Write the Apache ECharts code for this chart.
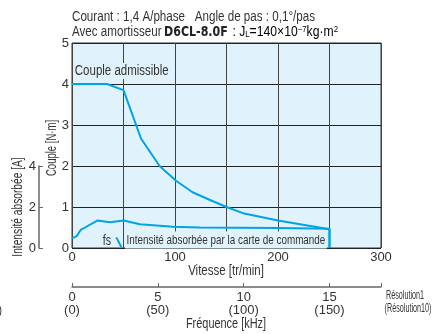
<!DOCTYPE html>
<html lang="fr">
<head>
    <meta charset="UTF-8">
    <title>Couple / vitesse</title>
    <script src="https://cdn.jsdelivr.net/npm/echarts@6/dist/echarts.min.js"></script>
    <style>
        html, body { margin: 0; padding: 0; background: #fff; }
        #chart { width: 433px; height: 334px; }
    </style>
</head>
<body>
<div id="chart"></div>
<script>
    // torque curve (N·m) vs speed (tr/min)
    const torqueSpeed = [0, 34, 50, 67, 85, 101, 117, 134, 150, 166, 200, 250, 250];
    const torqueValue = [4, 4, 3.85, 2.67, 2.0, 1.64, 1.36, 1.17, 1.0, 0.85, 0.67, 0.46, 0];

    // current drawn by the driver (A) vs speed
    const currentSpeed = [0, 4.5, 8.4, 12.6, 24.6, 37, 50, 66, 98, 124, 200, 250, 250];
    const currentValue = [0.47, 0.58, 0.88, 1.0, 1.34, 1.26, 1.34, 1.16, 1.04, 1.0, 0.98, 0.94, 0];

    // start frequency marker (fs)
    const fsSpeed = [43, 48];
    const fsValue = [0.26, 0.02];

    const speedTicks = [0, 100, 200, 300];
    const freqTicks = [0, 5, 10, 15];
    const currentTicks = [0, 2, 4];

    const FONT = '"Liberation Sans", Arial, sans-serif';
    const BLUE = '#00a3e6';
    const BG = '#e0f3fd';
    const INK = '#333';
    const SX = 0.82; // condensed look

    const zip = (xs, ys) => xs.map((x, i) => [x, ys[i]]);

    function label(text, x, y, opts) {
        opts = opts || {};
        return {
            type: 'text', x: x, y: y, z: 10, rotation: opts.rotation || 0,
            scaleX: opts.scaleX || SX,
            style: Object.assign({
                text: text, font: (opts.size || 14) + 'px ' + FONT, fill: INK,
                align: opts.align || 'left', verticalAlign: 'middle'
            }, opts.style || {})
        };
    }

    let chart = echarts.init(document.getElementById('chart'));

    let option = {
        animation: false,
        textStyle: { fontFamily: FONT },
        grid: [
            { left: 72, top: 43, width: 309, height: 205, show: true,
              backgroundColor: BG, borderColor: '#333', borderWidth: 1 },
            // current axis, left
            { left: 39, top: 166, width: 10, height: 82 },
            // frequency axis, bottom
            { left: 72, top: 267, width: 309, height: 20 }
        ],
        xAxis: [
            {
                gridIndex: 0, type: 'value', min: 0, max: 300, interval: 50,
                axisLine: { show: false }, axisTick: { show: false },
                axisLabel: {
                    fontSize: 13, color: INK, margin: 3, fontFamily: FONT,
                    formatter: v => speedTicks.includes(v) ? String(v) : ''
                },
                splitLine: { lineStyle: { color: '#444', width: 1 } }
            },
            { gridIndex: 1, type: 'value', show: false },
            {
                gridIndex: 2, type: 'value', min: 0, max: 18, interval: 5,
                position: 'bottom',
                axisLine: { lineStyle: { color: '#666', width: 1.5 } },
                axisTick: { inside: true, length: 4, lineStyle: { color: '#666' } },
                axisLabel: {
                    fontSize: 13, color: INK, margin: 4, lineHeight: 13, fontFamily: FONT,
                    formatter: v => freqTicks.includes(v) ? v + '\n(' + v * 10 + ')' : ''
                },
                splitLine: { show: false }
            }
        ],
        yAxis: [
            {
                gridIndex: 0, type: 'value', min: 0, max: 5, interval: 1,
                axisLine: { show: false }, axisTick: { show: false },
                axisLabel: { fontSize: 13, color: INK, margin: 3, fontFamily: FONT },
                splitLine: { lineStyle: { color: '#222', width: 1 } }
            },
            // hidden: current scaled so that 4 A matches 2 N·m
            { gridIndex: 0, type: 'value', min: 0, max: 10, show: false },
            {
                gridIndex: 1, type: 'value', min: 0, max: 4, interval: 2,
                position: 'left',
                axisLine: { show: true, lineStyle: { color: '#666', width: 1.5 } },
                axisTick: { show: true, inside: true, length: 4, lineStyle: { color: '#666' } },
                axisLabel: {
                    fontSize: 13, color: INK, margin: 3, fontFamily: FONT,
                    formatter: v => currentTicks.includes(v) ? String(v) : ''
                },
                splitLine: { show: false }
            },
            { gridIndex: 2, type: 'value', show: false }
        ],
        series: [
            {
                type: 'line', xAxisIndex: 0, yAxisIndex: 0, showSymbol: false,
                lineStyle: { color: BLUE, width: 2 }, data: zip(torqueSpeed, torqueValue), z: 3
            },
            {
                type: 'line', xAxisIndex: 0, yAxisIndex: 1, showSymbol: false,
                lineStyle: { color: BLUE, width: 2 }, data: zip(currentSpeed, currentValue), z: 3
            },
            {
                type: 'line', xAxisIndex: 0, yAxisIndex: 0, showSymbol: false,
                lineStyle: { color: BLUE, width: 2 }, data: zip(fsSpeed, fsValue), z: 3
            }
        ],
        graphic: [
            label('Courant : 1,4 A/phase   Angle de pas : 0,1°/pas', 72, 17, { scaleX: 0.83 }),
            label('Avec amortisseur', 72, 32, { scaleX: 0.83 }),
            {
                type: 'text', x: 164, y: 32, z: 10, scaleX: 0.79,
                style: { text: 'D6CL-8.0F', font: 'bold 14px "DejaVu Sans", sans-serif',
                         fill: '#222', verticalAlign: 'middle' }
            },
            {
                type: 'text', x: 229, y: 32, z: 10, scaleX: 0.87,
                style: {
                    text: '{n| : J}{s|L}{n|=140×10}{u|−7}{n|kg·m}{u|2}',
                    verticalAlign: 'middle',
                    rich: {
                        n: { fontSize: 14, fontFamily: FONT, color: INK },
                        s: { fontSize: 9, fontFamily: FONT, color: INK, verticalAlign: 'bottom' },
                        u: { fontSize: 9, fontFamily: FONT, color: INK, verticalAlign: 'top' }
                    }
                }
            },
            label('Couple admissible', 74, 71, { style: { backgroundColor: BG, padding: [1, 2, 1, 1] } }),
            label('Intensité absorbée par la carte de commande', 125, 240,
                  { size: 13, scaleX: 0.76, style: { backgroundColor: BG, padding: [2, 2, 2, 2] } }),
            label('fs', 107, 241, { align: 'center', scaleX: 0.76 }),
            label('Vitesse [tr/min]', 226, 271, { align: 'center' }),
            label('Fréquence [kHz]', 226, 324, { align: 'center', scaleX: 0.78 }),
            label('Couple [N·m]', 52, 148, { align: 'center', rotation: Math.PI / 2, scaleX: 0.68 }),
            label('Intensité absorbée [A]', 18, 207, { align: 'center', rotation: Math.PI / 2, scaleX: 0.73 }),
            label('Résolution1', 405, 296, { align: 'center', size: 12, scaleX: 0.6 }),
            label('(Résolution10)', 408, 309, { align: 'center', size: 12, scaleX: 0.6 }),
            label(')', 2, 310, { align: 'right', size: 13 })
        ]
    };

    chart.setOption(option);
</script>
</body>
</html>
